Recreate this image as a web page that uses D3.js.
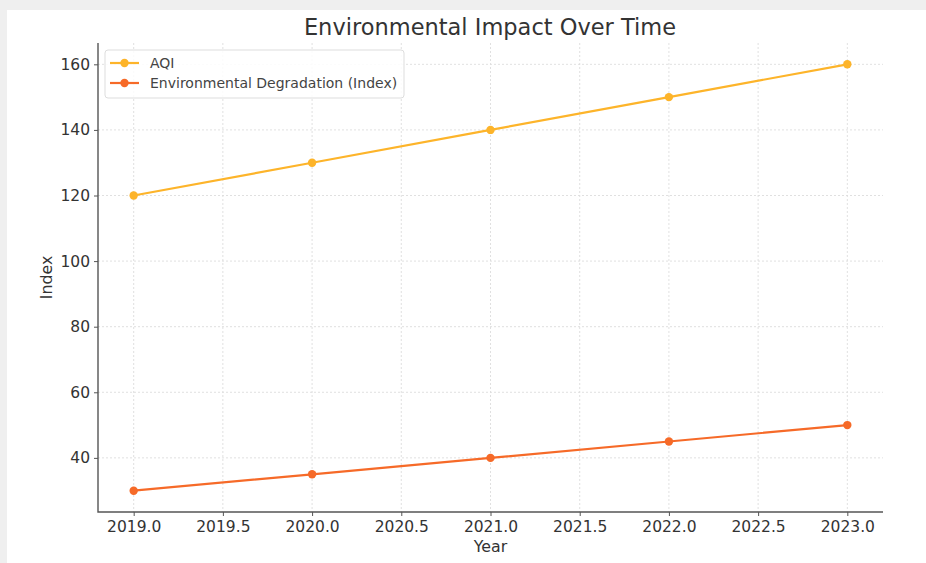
<!DOCTYPE html>
<html><head><meta charset="utf-8">
<script src="https://cdn.jsdelivr.net/npm/d3@7"></script>
<style>
html,body{margin:0;padding:0;background:#efefef;}
svg{display:block;}
</style></head>
<body>
<script>
const years = [2019, 2020, 2021, 2022, 2023];
const aqi = [120, 130, 140, 150, 160];
const degradation = [30, 35, 40, 45, 50];
const xTicks = [2019.0, 2019.5, 2020.0, 2020.5, 2021.0, 2021.5, 2022.0, 2022.5, 2023.0];
const yTicks = [40, 60, 80, 100, 120, 140, 160];
const seriesNames = ["AQI", "Environmental Degradation (Index)"];
const seriesColors = ["#FDB42A", "#F66A28"];

const W = 926, H = 563;
const svg = d3.select("body").append("svg").attr("width", W).attr("height", H);
svg.append("rect").attr("x", 7).attr("y", 10).attr("width", W - 7).attr("height", H - 10).attr("fill", "#fff");

const m = {left: 98, right: 883, top: 43, bottom: 512};
const x = d3.scaleLinear().domain([2018.8, 2023.2]).range([m.left, m.right]);
const y = d3.scaleLinear().domain([23.5, 166.5]).range([m.bottom, m.top]);

const font = "DejaVu Sans, sans-serif";

// grid
const g = svg.append("g");
g.selectAll(".gx").data(xTicks).enter().append("line")
  .attr("x1", d => x(d)).attr("x2", d => x(d)).attr("y1", m.top).attr("y2", m.bottom)
  .attr("stroke", "#dcdcdc").attr("stroke-width", 0.9).attr("stroke-dasharray", "2,2");
g.selectAll(".gy").data(yTicks).enter().append("line")
  .attr("x1", m.left).attr("x2", m.right).attr("y1", d => y(d)).attr("y2", d => y(d))
  .attr("stroke", "#dcdcdc").attr("stroke-width", 0.9).attr("stroke-dasharray", "2,2");

// axes
const xAxis = d3.axisBottom(x).tickValues(xTicks).tickFormat(d3.format(".1f")).tickSizeOuter(0).tickSize(4).tickPadding(5);
const yAxis = d3.axisLeft(y).tickValues(yTicks).tickFormat(d3.format("d")).tickSizeOuter(0).tickSize(4).tickPadding(4);
const gx = svg.append("g").attr("transform", `translate(0,${m.bottom})`).call(xAxis);
const gy = svg.append("g").attr("transform", `translate(${m.left},0)`).call(yAxis);
[gx, gy].forEach(a => {
  a.select(".domain").remove();
  a.selectAll(".tick line").attr("stroke", "#555").attr("stroke-width", 1);
  a.selectAll(".tick text").attr("fill", "#333").style("font-family", font).style("font-size", "15.5px");
});
// spines
svg.append("path")
  .attr("d", `M${m.left},${m.top}V${m.bottom}H${m.right}`)
  .attr("fill", "none").attr("stroke", "#555").attr("stroke-width", 1.4);

// lines
const data = [aqi, degradation];
const line = d3.line().x((d, i) => x(years[i])).y(d => y(d));
data.forEach((vals, k) => {
  svg.append("path").datum(vals).attr("d", line).attr("fill", "none")
    .attr("stroke", seriesColors[k]).attr("stroke-width", 2.2);
  svg.selectAll(null).data(vals).enter().append("circle")
    .attr("cx", (d, i) => x(years[i])).attr("cy", d => y(d)).attr("r", 4.2)
    .attr("fill", seriesColors[k]);
});

// title and labels
svg.append("text").attr("x", 490).attr("y", 35).attr("text-anchor", "middle")
  .style("font-family", font).style("font-size", "22.5px").attr("fill", "#333")
  .text("Environmental Impact Over Time");
svg.append("text").attr("x", (m.left + m.right) / 2).attr("y", 552).attr("text-anchor", "middle")
  .style("font-family", font).style("font-size", "15.8px").attr("fill", "#333").text("Year");
svg.append("text").attr("transform", `translate(52,${(m.top + m.bottom) / 2}) rotate(-90)`).attr("text-anchor", "middle")
  .style("font-family", font).style("font-size", "15.8px").attr("fill", "#333").text("Index");

// legend
const lg = svg.append("g");
lg.append("rect").attr("x", 105).attr("y", 50).attr("width", 299).attr("height", 48).attr("rx", 3)
  .attr("fill", "#fff").attr("fill-opacity", 0.85).attr("stroke", "#ddd");
seriesNames.forEach((name, k) => {
  const ly = 63 + k * 20;
  lg.append("line").attr("x1", 110).attr("x2", 139).attr("y1", ly).attr("y2", ly)
    .attr("stroke", seriesColors[k]).attr("stroke-width", 2.2);
  lg.append("circle").attr("cx", 124.5).attr("cy", ly).attr("r", 4.2).attr("fill", seriesColors[k]);
  lg.append("text").attr("x", 150).attr("y", ly + 5).style("font-family", font).style("font-size", "14px")
    .attr("fill", "#444").text(name);
});
</script>
</body></html>
